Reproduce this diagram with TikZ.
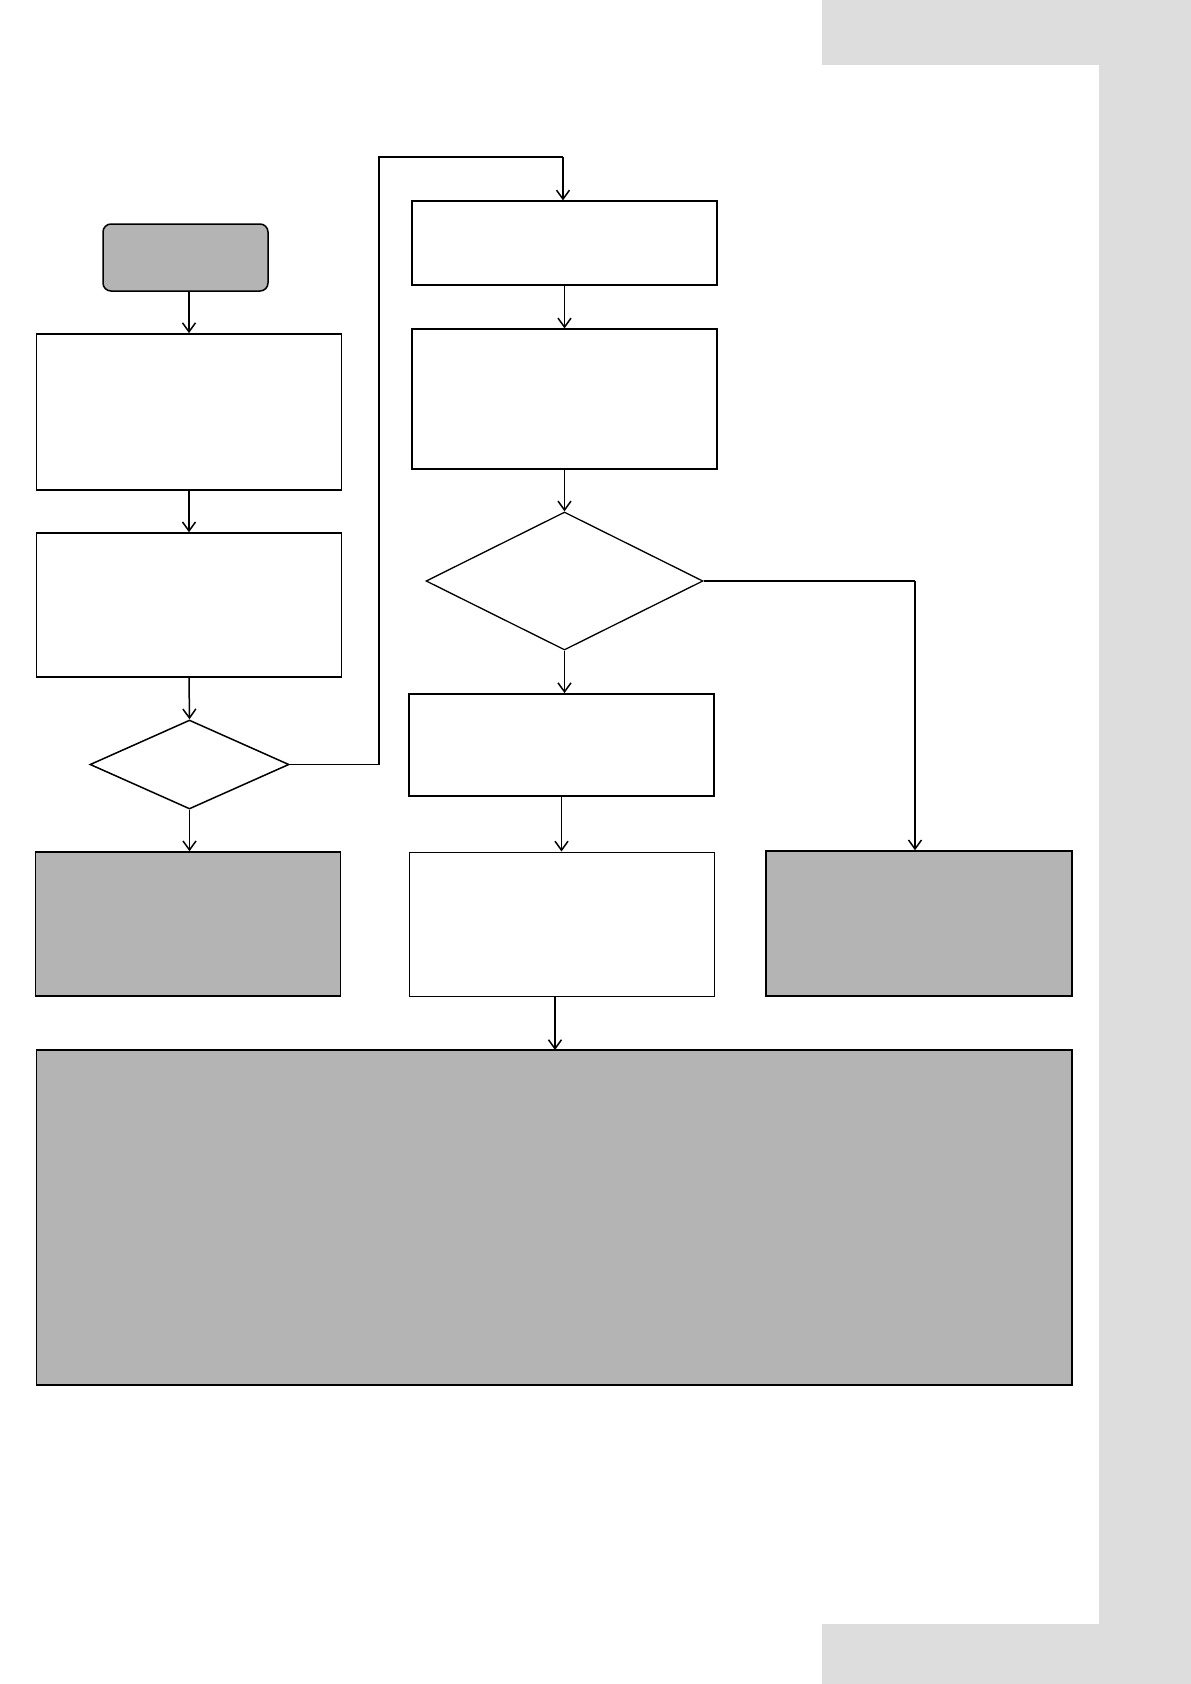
\documentclass[tikz,border=0pt]{standalone}
\usetikzlibrary{shapes.geometric,arrows.meta}
\definecolor{boxgrey}{RGB}{180,180,180}
\definecolor{bandgrey}{RGB}{221,221,221}
\begin{document}
\begin{tikzpicture}[x=1pt,y=-1pt,
  plain/.style={draw=black,line width=1.5pt,rectangle,inner sep=0pt,anchor=center},
  shaded/.style={plain,fill=boxgrey},
  startbox/.style={draw=black,line width=1.5pt,fill=boxgrey,rectangle,rounded corners=8pt,inner sep=0pt},
  decision/.style={draw=black,line width=1.5pt,diamond,inner sep=0pt},
  arr/.style={draw=black,line width=1.5pt,-{Straight Barb[length=9pt,width=13pt,line width=1.5pt]}},
  link/.style={draw=black,line width=1.2pt}]
\path[use as bounding box] (0,0) rectangle (1191,1684);
\fill[white] (0,0) rectangle (1191,1684);
% page bands
\fill[bandgrey] (822,0) rectangle (1191,65);
\fill[bandgrey] (1099,0) rectangle (1191,1684);
\fill[bandgrey] (822,1624) rectangle (1191,1684);
% left column
\node[startbox,minimum width=165pt,minimum height=67pt] (start) at (185.5,257.5) {};
\node[plain,line width=1.8pt,minimum width=305pt,minimum height=156pt] (b1) at (189,412) {};
\node[plain,minimum width=305pt,minimum height=144pt] (b2) at (189,605) {};
\node[decision,minimum width=199pt,minimum height=89pt] (d1) at (189.5,764.5) {};
\node[shaded,minimum width=305pt,minimum height=144pt] (g1) at (188,924) {};
% middle column
\node[plain,line width=1.2pt,minimum width=305pt,minimum height=84pt] (b3) at (564.5,243) {};
\node[plain,line width=1.2pt,minimum width=305pt,minimum height=140pt] (b4) at (564.5,399) {};
\node[decision,line width=1.3pt,minimum width=277pt,minimum height=138pt] (d2) at (564.5,581) {};
\node[plain,line width=1.8pt,minimum width=305pt,minimum height=102pt] (b5) at (561.5,745) {};
\node[plain,line width=1pt,minimum width=305pt,minimum height=144pt] (b6) at (561.5,924) {};
% right
\node[shaded,minimum width=306pt,minimum height=145pt] (g2) at (919,923.5) {};
% bottom
\node[shaded,line width=1.2pt,minimum width=1035.5pt,minimum height=335pt] (g3) at (554.25,1217.5) {};
% connectors
\coordinate (k1) at (379,764.5);
\coordinate (k2) at (379,157);
\coordinate (k3) at (563,157);
\coordinate (k4) at (915,581);
\draw[arr] (start.south -| b1.north) -- (b1.north);
\draw[arr] (b1.south) -- (b2.north);
\draw[arr] (b2.south) -- (d1.north);
\draw[arr] (d1.south) -- (d1.south |- g1.north);
\draw[link] (d1.east) -- (k1) -- (k2) -- (k3);
\draw[arr] (k3) -- (k3 |- b3.north);
\draw[arr] (b3.south) -- (b4.north);
\draw[arr] (b4.south) -- (d2.north);
\draw[arr] (d2.south) -- (d2.south |- b5.north);
\draw[arr] (b5.south) -- (b6.north);
\draw[arr] (555,996) -- (555,1050) coordinate (g3top);
\draw[link,line width=1.5pt] (d2.east) -- (k4);
\draw[arr] (k4) -- (k4 |- g2.north);
\end{tikzpicture}
\end{document}
